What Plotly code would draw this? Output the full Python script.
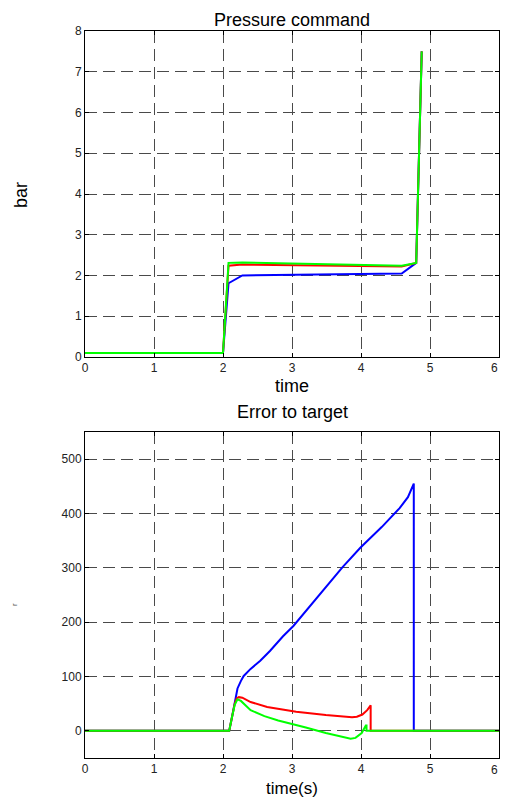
import plotly.graph_objects as go

# ---- Pressure command data ----
p_time = [0, 2.0, 2.08, 2.28, 4.59, 4.8, 4.88]
p_blue = [0.1, 0.1, 1.81, 2.0, 2.05, 2.31, 7.5]
p_red = [0.1, 0.1, 2.24, 2.27, 2.22, 2.31, 7.5]
p_green = [0.1, 0.1, 2.31, 2.32, 2.24, 2.31, 7.5]

# ---- Error to target data ----
e_blue_t = [0, 2.09, 2.13, 2.17, 2.21, 2.26, 2.30, 2.40, 2.54, 2.68, 2.87, 3.02,
            3.5, 3.73, 3.99, 4.3, 4.56, 4.68, 4.765, 4.765, 6]
e_blue_v = [0, 0, 25, 52, 78, 92, 101, 114, 129, 147, 174, 193,
            266, 301, 337, 375, 410, 430, 455, 0, 0]
e_red_t = [0, 2.09, 2.13, 2.17, 2.20, 2.23, 2.28, 2.4, 2.64, 3.06, 3.49, 3.87, 3.94,
           4.02, 4.09, 4.13, 4.14, 4.14, 6]
e_red_v = [0, 0, 25, 50, 60, 62, 61, 53, 44, 35, 29, 25, 26, 30, 38, 47, 47, 0, 0]
e_green_t = [0, 2.09, 2.13, 2.17, 2.21, 2.26, 2.4, 2.6, 2.8, 3.06, 3.2, 3.49, 3.7, 3.85,
             3.92, 4.01, 4.07, 4.08, 4.08, 6]
e_green_v = [0, 0, 25, 48, 58, 55, 38, 27, 19, 11, 6, -4, -10, -14.5, -13, -4, 10, 10, 0, 0]

x_ticks = [0, 1, 2, 3, 4, 5]
x_last_label = "6"
p_ticks = [0, 1, 2, 3, 4, 5, 6, 7, 8]
e_ticks = [0, 100, 200, 300, 400, 500]

BLUE = "#0000ff"
RED = "#ff0000"
GREEN = "#00ff00"

fig = go.Figure()
for y, c in [(p_blue, BLUE), (p_red, RED), (p_green, GREEN)]:
    fig.add_trace(go.Scatter(x=p_time, y=y, mode="lines", line=dict(color=c, width=2),
                             xaxis="x", yaxis="y", showlegend=False))
for t, v, c in [(e_blue_t, e_blue_v, BLUE), (e_red_t, e_red_v, RED), (e_green_t, e_green_v, GREEN)]:
    fig.add_trace(go.Scatter(x=t, y=v, mode="lines", line=dict(color=c, width=2),
                             xaxis="x2", yaxis="y2", showlegend=False))

FONT = "Liberation Sans, Arial, sans-serif"
axis_common = dict(
    showline=True, linecolor="black", linewidth=1, mirror="ticks",
    ticks="inside", ticklen=4, tickcolor="black", automargin=False,
    showgrid=True, gridcolor="#4a4a4a", griddash="12px,6px", gridwidth=1,
    zeroline=False, tickfont=dict(size=12, color="#222222", family=FONT),
)

# page is offset by the default 8px body margin; keep figure inside the window
OFF = 8
W, H = 492, 792
pl, pr = 85 - OFF, 499 - OFF
pt, pb = 31 - OFF, 758 - OFF
span = pb - pt
def frac(px):
    return (pb - (px - OFF)) / span
def xfrac(px):
    return (px - OFF - pl) / (pr - pl)

ann_px = [
    ("Pressure command", 292, 8, 18, 0, "black", "center", "top"),
    ("time", 292, 386, 18, 0, "black", "center", "middle"),
    ("bar", 21, 195, 18, -90, "black", "center", "middle"),
    ("Error to target", 292, 412, 18, 0, "black", "center", "middle"),
    ("time(s)", 292, 800, 17, 0, "black", "center", "bottom"),
    ("r", 14, 605, 8, -90, "#555555", "center", "middle"),
    (x_last_label, 500, 368, 12, 0, "#222222", "right", "middle"),
    (x_last_label, 500, 770, 12, 0, "#222222", "right", "middle"),
]
annotations = [
    dict(text=t, xref="paper", yref="paper", x=xfrac(x), y=frac(y),
         xanchor=xa, yanchor=ya, showarrow=False, textangle=a,
         font=dict(size=s, color=c))
    for t, x, y, s, a, c, xa, ya in ann_px
]

fig.update_layout(
    width=W, height=H,
    margin=dict(l=pl, r=W - pr, t=pt, b=H - pb, autoexpand=False),
    paper_bgcolor="white", plot_bgcolor="white",
    font=dict(family=FONT, color="black"),
    xaxis=dict(domain=[0, 1], range=[0, 6], tickvals=x_ticks, anchor="y", **axis_common),
    yaxis=dict(domain=[frac(357), 1], range=[0, 8], tickvals=p_ticks, anchor="x", **axis_common),
    xaxis2=dict(domain=[0, 1], range=[0, 6], tickvals=x_ticks, anchor="y2", **axis_common),
    yaxis2=dict(domain=[0, frac(432)], range=[-50, 550], tickvals=e_ticks,
                anchor="x2", **axis_common),
    annotations=annotations,
)

fig.write_html("out.html")
